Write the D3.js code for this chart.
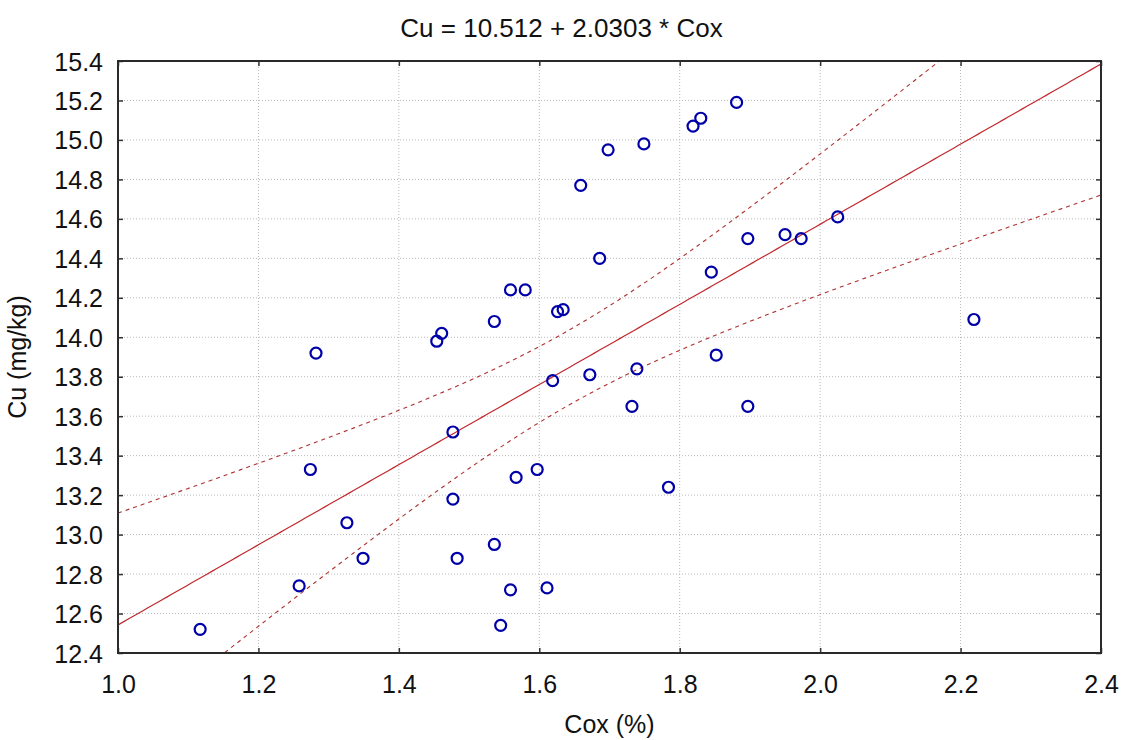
<!DOCTYPE html>
<html>
<head>
<meta charset="utf-8">
<script src="https://cdn.jsdelivr.net/npm/d3@7"></script>
<style>
  html, body { margin: 0; padding: 0; background: #fff; }
  svg { display: block; font-family: "Liberation Sans", Arial, sans-serif; }
</style>
</head>
<body>
<svg id="chart" width="1123" height="740"></svg>
<script>
// ---- data ----
const cox = [1.117, 1.258, 1.274, 1.282, 1.326, 1.349, 1.454, 1.461, 1.477, 1.477,
             1.483, 1.536, 1.536, 1.545, 1.559, 1.559, 1.567, 1.580, 1.597, 1.611,
             1.619, 1.626, 1.634, 1.659, 1.672, 1.686, 1.698, 1.732, 1.739, 1.749,
             1.784, 1.819, 1.830, 1.845, 1.852, 1.881, 1.897, 1.897, 1.950, 1.973,
             2.025, 2.219];
const cu  = [12.52, 12.74, 13.33, 13.92, 13.06, 12.88, 13.98, 14.02, 13.52, 13.18,
             12.88, 14.08, 12.95, 12.54, 14.24, 12.72, 13.29, 14.24, 13.33, 12.73,
             13.78, 14.13, 14.14, 14.77, 13.81, 14.40, 14.95, 13.65, 13.84, 14.98,
             13.24, 15.07, 15.11, 14.33, 13.91, 15.19, 14.50, 13.65, 14.52, 14.50,
             14.61, 14.09];
const intercept = 10.512;
const slope = 2.0303;
const titleText = "Cu = 10.512 + 2.0303 * Cox";
const xLabel = "Cox (%)";
const yLabel = "Cu (mg/kg)";
const xTicks = [1.0, 1.2, 1.4, 1.6, 1.8, 2.0, 2.2, 2.4];
const yTicks = [12.4, 12.6, 12.8, 13.0, 13.2, 13.4, 13.6, 13.8, 14.0, 14.2, 14.4, 14.6, 14.8, 15.0, 15.2, 15.4];

// ---- layout ----
const W = 1123, H = 740;
const plot = { left: 118, right: 1101, top: 61, bottom: 653 };
const svg = d3.select("#chart");

const x = d3.scaleLinear().domain([1.0, 2.4]).range([plot.left, plot.right]);
const y = d3.scaleLinear().domain([12.4, 15.4]).range([plot.bottom, plot.top]);

// clip
svg.append("defs").append("clipPath").attr("id", "clip")
  .append("rect").attr("x", plot.left).attr("y", plot.top)
  .attr("width", plot.right - plot.left).attr("height", plot.bottom - plot.top);

// grid
const grid = svg.append("g");
grid.selectAll(".vg").data(xTicks.slice(1, -1)).join("line")
  .attr("x1", d => x(d)).attr("x2", d => x(d))
  .attr("y1", plot.top).attr("y2", plot.bottom)
  .attr("stroke", "#b8b8b8").attr("stroke-width", 1).attr("stroke-dasharray", "1,2");
grid.selectAll(".hg").data(yTicks.slice(1, -1)).join("line")
  .attr("y1", d => y(d)).attr("y2", d => y(d))
  .attr("x1", plot.left).attr("x2", plot.right)
  .attr("stroke", "#b8b8b8").attr("stroke-width", 1).attr("stroke-dasharray", "1,2");

// regression statistics for confidence band (95% CI of the mean)
const n = cox.length;
const xbar = d3.mean(cox);
const sxx = d3.sum(cox, v => (v - xbar) * (v - xbar));
const sse = d3.sum(cox.map((v, i) => Math.pow(cu[i] - (intercept + slope * v), 2)));
const s = Math.sqrt(sse / (n - 2));
const tcrit = 2.021;
const xs = d3.range(0, 201).map(i => 1.0 + i * (1.4 / 200));
const half = v => tcrit * s * Math.sqrt(1 / n + (v - xbar) * (v - xbar) / sxx);

const lines = svg.append("g").attr("clip-path", "url(#clip)");
const lineGen = d3.line().x(d => x(d[0])).y(d => y(d[1]));
lines.append("path")
  .datum(xs.map(v => [v, intercept + slope * v]))
  .attr("d", lineGen).attr("fill", "none")
  .attr("stroke", "#c0282d").attr("stroke-width", 1.2);
lines.append("path")
  .datum(xs.map(v => [v, intercept + slope * v + half(v)]))
  .attr("d", lineGen).attr("fill", "none")
  .attr("stroke", "#b03030").attr("stroke-width", 1.1).attr("stroke-dasharray", "4,4");
lines.append("path")
  .datum(xs.map(v => [v, intercept + slope * v - half(v)]))
  .attr("d", lineGen).attr("fill", "none")
  .attr("stroke", "#b03030").attr("stroke-width", 1.1).attr("stroke-dasharray", "4,4");

// points
svg.append("g").selectAll("circle").data(cox.map((v, i) => [v, cu[i]])).join("circle")
  .attr("cx", d => x(d[0])).attr("cy", d => y(d[1])).attr("r", 5.5)
  .attr("fill", "none").attr("stroke", "#0000a8").attr("stroke-width", 2.2);

// axes (inward ticks on all sides)
const tickLen = 5;
const axB = svg.append("g").attr("transform", `translate(0,${plot.bottom})`)
  .call(d3.axisBottom(x).tickValues(xTicks).tickFormat(d3.format(".1f")).tickSizeInner(-tickLen).tickSizeOuter(0).tickPadding(22));
const axT = svg.append("g").attr("transform", `translate(0,${plot.top})`)
  .call(d3.axisTop(x).tickValues(xTicks).tickFormat("").tickSizeInner(-tickLen).tickSizeOuter(0));
const axL = svg.append("g").attr("transform", `translate(${plot.left},0)`)
  .call(d3.axisLeft(y).tickValues(yTicks).tickFormat(d3.format(".1f")).tickSizeInner(-tickLen).tickSizeOuter(0).tickPadding(15));
const axR = svg.append("g").attr("transform", `translate(${plot.right},0)`)
  .call(d3.axisRight(y).tickValues(yTicks).tickFormat("").tickSizeInner(-tickLen).tickSizeOuter(0));
[axB, axT, axL, axR].forEach(a => {
  a.select(".domain").remove();
  a.selectAll(".tick line").attr("stroke", "#333").attr("stroke-width", 1.5);
  a.selectAll("text").attr("fill", "#111").attr("font-size", 25)
    .attr("font-family", "'Liberation Sans', Arial, sans-serif");
});
axL.selectAll("text").attr("dy", "0.36em");

// frame
svg.append("rect").attr("x", plot.left).attr("y", plot.top)
  .attr("width", plot.right - plot.left).attr("height", plot.bottom - plot.top)
  .attr("fill", "none").attr("stroke", "#2a2a2a").attr("stroke-width", 2);

// titles
svg.append("text").attr("x", W / 2).attr("y", 37).attr("text-anchor", "middle")
  .attr("font-size", 26).attr("fill", "#111").text(titleText);
svg.append("text").attr("x", (plot.left + plot.right) / 2).attr("y", 733).attr("text-anchor", "middle")
  .attr("font-size", 25).attr("fill", "#111").text(xLabel);
svg.append("text").attr("transform", `translate(26,${(plot.top + plot.bottom) / 2}) rotate(-90)`)
  .attr("text-anchor", "middle").attr("font-size", 25).attr("fill", "#111").text(yLabel);
</script>
</body>
</html>
